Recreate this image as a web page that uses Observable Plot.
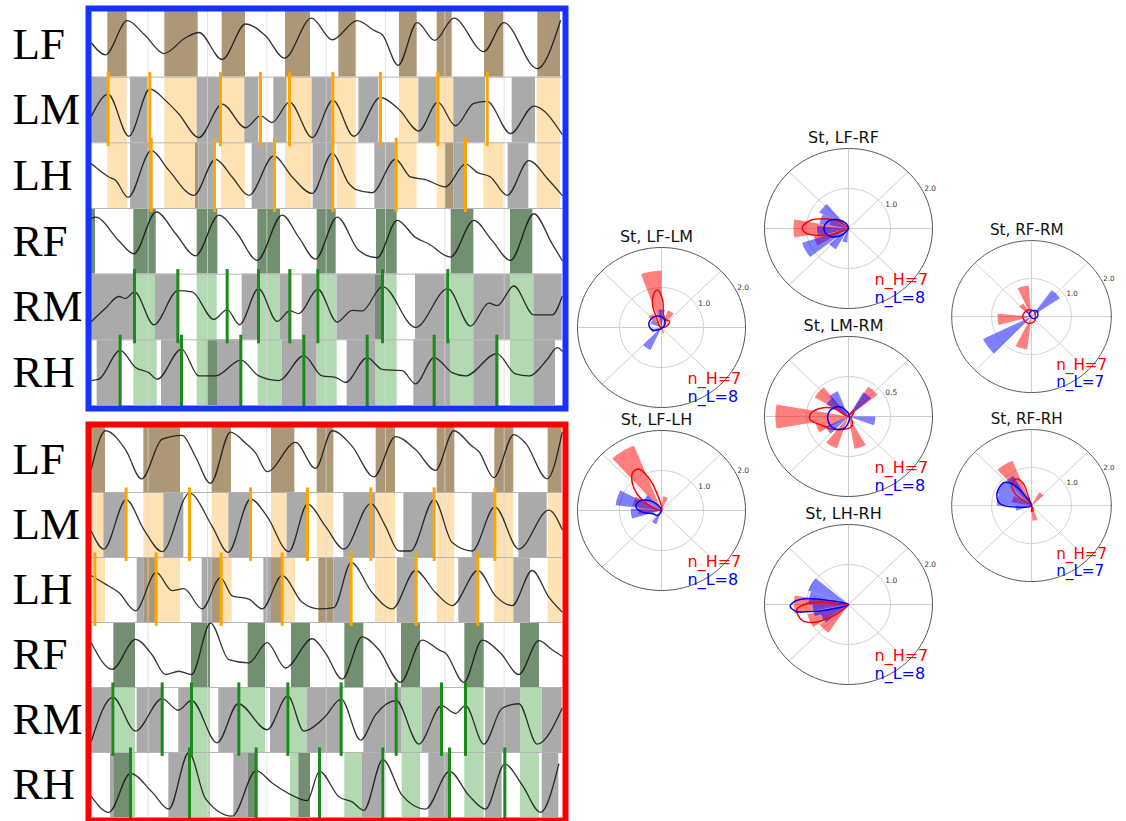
<!DOCTYPE html>
<html><head><meta charset="utf-8">
<script src="https://cdn.jsdelivr.net/npm/d3@7"></script>
<script src="https://cdn.jsdelivr.net/npm/@observablehq/plot@0.6"></script>
<style>
body{margin:0;background:#fff;}
#root{position:relative;width:1126px;height:821px;overflow:hidden;background:#fff;}
#root > div{position:absolute;}
</style></head><body><div id="root"></div><script>
// ---------------- DATA: gait panels (time in samples, signal 0-100 within row) ----------------
const rowNames = ["LF","LM","LH","RF","RM","RH"];
const gridT = [188,366,544,722,900,1078,1256];

// Low condition (blue frame)
const L_LF_int = [[67,125,"s"],[238,338,"s"],[410,480,"s"],[600,675,"s"],[760,812,"s"],[942,995,"s"],[1055,1100,"s"],[1197,1255,"s"],[1357,1425,"s"]];
const L_LM_int = [[18,67,"g"],[67,125,"s"],[135,188,"g"],[238,335,"s"],[335,405,"g"],[405,478,"s"],[478,520,"g"],[565,605,"g"],[605,680,"s"],[680,740,"g"],[740,812,"s"],[820,880,"g"],[942,1000,"s"],[1000,1055,"g"],[1055,1105,"s"],[1105,1200,"g"],[1280,1350,"g"],[1355,1425,"s"]];
const L_LH_int = [[67,127,"s"],[135,195,"g"],[238,330,"s"],[330,340,"d"],[340,390,"g"],[408,480,"s"],[500,565,"g"],[600,680,"s"],[683,742,"g"],[755,812,"s"],[868,930,"g"],[935,995,"s"],[1055,1080,"s"],[1080,1105,"d"],[1105,1140,"g"],[1195,1255,"s"],[1268,1330,"g"],[1355,1425,"s"]];
const L_RF_int = [[18,30,"s"],[145,212,"s"],[335,397,"s"],[517,585,"s"],[695,752,"s"],[873,935,"s"],[1097,1165,"s"],[1275,1342,"s"]];
const L_RM_int = [[18,145,"g"],[145,210,"s"],[210,278,"g"],[335,395,"s"],[470,520,"g"],[520,585,"s"],[585,612,"g"],[650,695,"g"],[695,755,"s"],[755,870,"g"],[870,890,"d"],[890,935,"s"],[990,1090,"g"],[1095,1165,"s"],[1165,1275,"g"],[1275,1345,"s"],[1345,1430,"g"]];
const L_RH_int = [[35,105,"g"],[145,215,"s"],[228,290,"g"],[335,365,"s"],[365,398,"d"],[398,470,"g"],[518,590,"s"],[590,695,"g"],[695,755,"s"],[785,870,"g"],[870,935,"s"],[985,1095,"g"],[1095,1165,"s"],[1165,1240,"g"],[1275,1345,"s"],[1345,1410,"g"]];

const L_LF_sig = [[18,52],[60,34],[125,86],[180,63],[235,36],[300,60],[340,68],[410,27],[480,81],[540,63],[597,29],[678,90],[740,57],[815,86],[870,70],[890,65],[938,18],[995,83],[1048,56],[1105,90],[1195,39],[1255,83],[1355,13],[1425,86]];
const L_LM_sig = [[18,41],[68,74],[130,10],[193,82],[245,62],[280,44],[340,8],[410,59],[480,23],[525,41],[560,31],[612,62],[680,8],[742,65],[805,10],[885,69],[940,51],[1000,18],[1057,62],[1110,26],[1165,60],[1205,63],[1275,14],[1345,56],[1430,13]];
const L_LH_sig = [[18,68],[70,48],[90,43],[128,17],[197,88],[250,58],[325,20],[390,75],[440,48],[490,20],[565,80],[620,48],[680,23],[740,84],[790,38],[810,29],[860,24],[930,75],[975,48],[1020,44],[1080,33],[1140,68],[1175,55],[1215,48],[1265,20],[1330,73],[1390,43],[1430,20]];
const L_RF_sig = [[18,85],[30,87],[100,51],[145,31],[212,95],[270,62],[330,28],[400,90],[455,62],[515,21],[590,90],[640,56],[690,23],[755,87],[820,36],[875,25],[935,82],[990,56],[1030,46],[1095,26],[1165,82],[1220,51],[1275,21],[1345,92],[1400,46],[1430,21]];
const L_RM_sig = [[18,28],[60,48],[100,66],[120,63],[147,73],[205,23],[277,75],[320,73],[385,31],[425,46],[462,23],[519,78],[575,28],[613,44],[640,40],[697,77],[755,27],[800,45],[830,44],[891,81],[990,19],[1087,78],[1155,21],[1210,56],[1235,52],[1285,82],[1345,38],[1400,38],[1430,66]];
const L_RH_sig = [[18,38],[40,40],[104,84],[150,58],[190,50],[215,40],[288,86],[340,45],[390,45],[466,69],[520,45],[580,38],[655,76],[710,45],[750,43],[780,35],[845,73],[890,55],[950,53],[990,33],[1046,73],[1100,50],[1140,45],[1234,79],[1290,48],[1330,45],[1385,70],[1415,88],[1430,83]];

const L_LM_ticks = [68,193,405,525,612,742,885,1057,1205];
const L_LH_ticks = [197,387,567,742,932,1140];
const L_RM_ticks = [147,277,425,519,613,697,891,1087];
const L_RH_ticks = [104,288,466,655,845,1046,1234];

// High condition (red frame)
const H_LF_int = [[18,60,"s"],[175,285,"s"],[380,438,"s"],[558,628,"s"],[695,745,"s"],[872,930,"s"],[1055,1108,"s"],[1228,1285,"s"],[1388,1430,"s"]];
const H_LM_int = [[18,55,"s"],[55,120,"g"],[175,235,"s"],[235,295,"g"],[380,430,"s"],[430,495,"g"],[558,605,"s"],[605,665,"g"],[695,745,"s"],[775,870,"g"],[870,930,"s"],[955,1045,"g"],[1055,1108,"s"],[1160,1228,"g"],[1228,1285,"s"],[1300,1385,"g"],[1388,1430,"s"]];
const H_LH_int = [[20,60,"s"],[155,175,"g"],[175,210,"d"],[210,285,"s"],[350,380,"g"],[380,410,"d"],[410,440,"s"],[535,558,"g"],[558,590,"d"],[590,630,"s"],[700,745,"d"],[745,800,"g"],[870,930,"s"],[935,990,"g"],[1055,1108,"s"],[1120,1180,"g"],[1228,1285,"s"],[1285,1335,"g"],[1388,1430,"s"]];
const H_RF_int = [[85,150,"s"],[318,375,"s"],[488,540,"s"],[618,675,"s"],[778,835,"s"],[948,1005,"s"],[1138,1196,"s"],[1305,1362,"s"]];
const H_RM_int = [[18,80,"g"],[80,150,"s"],[155,230,"g"],[280,318,"g"],[318,375,"s"],[400,460,"g"],[460,540,"s"],[555,605,"g"],[605,665,"s"],[665,770,"g"],[835,950,"g"],[950,1010,"s"],[1010,1070,"g"],[1140,1196,"s"],[1200,1305,"g"],[1305,1370,"s"],[1370,1430,"g"]];
const H_RH_int = [[75,85,"g"],[85,135,"d"],[135,150,"s"],[250,310,"g"],[310,375,"s"],[445,488,"g"],[488,515,"d"],[615,640,"s"],[640,675,"d"],[778,830,"s"],[830,890,"g"],[950,1005,"s"],[1030,1095,"g"],[1138,1196,"s"],[1200,1250,"g"],[1305,1362,"s"],[1370,1420,"g"]];

const H_LF_sig = [[18,37],[60,95],[120,66],[168,21],[230,82],[290,88],[330,55],[375,14],[435,93],[480,76],[510,61],[545,32],[630,77],[690,37],[740,95],[800,71],[865,24],[930,86],[990,66],[1050,34],[1105,95],[1160,71],[1180,63],[1225,23],[1285,89],[1320,76],[1385,21],[1430,92]];
const H_LM_sig = [[18,40],[55,13],[122,89],[175,43],[230,9],[312,99],[380,48],[428,8],[495,90],[545,63],[610,9],[666,82],[720,48],[775,13],[856,83],[900,48],[940,10],[975,10],[1046,89],[1100,23],[1160,10],[1228,78],[1300,13],[1390,73],[1430,43]];
const H_LH_sig = [[18,72],[60,59],[100,46],[150,18],[212,77],[260,49],[295,52],[350,21],[405,69],[440,41],[490,36],[530,21],[590,72],[650,31],[700,21],[745,23],[797,92],[860,46],[920,21],[990,80],[1050,46],[1100,26],[1177,80],[1230,41],[1280,26],[1340,80],[1390,39],[1430,16]];
const H_RF_sig = [[18,68],[80,28],[150,74],[200,50],[240,20],[280,25],[318,20],[375,99],[430,43],[490,38],[545,69],[600,30],[680,75],[720,53],[770,13],[830,78],[880,58],[945,8],[1010,73],[1060,58],[1080,53],[1135,8],[1190,73],[1245,53],[1300,20],[1360,72],[1400,58],[1430,48]];
const H_RM_sig = [[18,18],[82,85],[150,33],[230,83],[278,65],[318,80],[395,15],[458,75],[545,35],[607,87],[655,33],[715,53],[767,82],[825,19],[870,58],[932,80],[1000,13],[1068,72],[1110,60],[1140,72],[1195,13],[1250,68],[1300,75],[1355,13],[1430,68]];
const H_RH_sig = [[18,32],[70,8],[135,68],[200,39],[250,13],[310,100],[360,29],[440,2],[512,72],[560,53],[620,34],[665,26],[702,71],[760,32],[800,24],[835,11],[892,89],[950,34],[1020,13],[1092,71],[1150,34],[1200,13],[1258,82],[1310,50],[1365,8],[1420,82]];

const H_LM_ticks = [122,312,495,666,856,1046,1228];
const H_LH_ticks = [28,212,407,590,797,992,1177];
const H_RM_ticks = [82,230,318,460,607,767,932,1068,1140];
const H_RH_ticks = [135,312,512,702,892,1092,1258];

// ---------------- DATA: polar plots (angle in degrees, radius) ----------------
const polarNames = ["St, LF-LM","St, LF-RF","St, RF-RM","St, LF-LH","St, LM-RM","St, RF-RH","St, LH-RH"];
const polarNH = [7,7,7,7,7,7,7];
const polarNL = [8,8,7,8,8,7,8];
const polarRmax = [2,2,2,2,1,2,2];
const polarRLabels = [["1.0","2.0"],["1.0","2.0"],["1.0","2.0"],["1.0","2.0"],["0.5",""],["1.0","2.0"],["1.0","2.0"]];
const redBars = [
  [[100,1.42],[60,0.45],[130,0.4],[290,0.15]],
  [[180,1.31],[200,0.85],[160,0.45]],
  [[105,0.82],[185,0.85],[253,0.87],[130,0.4]],
  [[122,1.75],[75,0.35],[160,0.7],[180,0.55]],
  [[180,0.87],[139,0.47],[48,0.44],[241,0.42],[290,0.41],[200,0.4]],
  [[122,1.27],[51,0.4],[283,0.4],[160,0.5]],
  [[180,1.3],[204,1.0],[226,0.85]]
];
const blueBars = [
  [[235,0.62],[150,0.28],[200,0.25],[90,0.45]],
  [[140,0.8],[160,0.7],[185,0.75],[208,1.16],[230,0.6],[255,0.35]],
  [[44,0.86],[216,1.35],[130,0.2]],
  [[163,1.1],[186,0.73],[241,0.36],[140,0.5]],
  [[122,0.34],[350,0.32],[215,0.3],[50,0.35],[140,0.3]],
  [[130,0.9],[150,0.95],[170,0.87],[190,0.4]],
  [[150,1.02],[170,0.95],[190,0.85],[210,0.7]]
];
const redCurves = [
  [[0,0],[20,0.15],[40,0.25],[60,0.22],[80,0.3],[88,0.7],[96,0.94],[104,0.82],[112,0.54],[117,0.22],[150,0.05]],
  [[0,0],[146,0.36],[158,0.65],[167,0.92],[176,1.08],[181,1.1],[187,1.01],[194,0.72],[200,0.43],[202,0.16]],
  [[0,0.1],[60,0.15],[120,0.2],[180,0.22],[240,0.2],[300,0.15]],
  [[0,0],[105,0.5],[110,0.84],[117,1.16],[126,1.17],[136,0.96],[145,0.7],[154,0.37]],
  [[0,0],[150,0.2],[160,0.32],[175,0.45],[185,0.46],[200,0.33],[220,0.25],[250,0.17],[280,0.14],[300,0.1],[340,0.03],[20,0.05],[45,0.09],[60,0.05]],
  [[0,0],[108,0.32],[110,0.64],[119,0.8],[132,0.74],[143,0.5],[146,0.18],[0,0],[270,0.16],[290,0.12]],
  [[0,0],[176,0.3],[175,0.63],[179,1.0],[186,1.24],[200,1.17],[209,0.92],[215,0.61],[221,0.32]]
];
const blueCurves = [
  [[142,0.33],[172,0.3],[202,0.2],[232,0.06],[262,0.03],[292,0.02],[322,0.01],[352,0.03],[22,0.06],[52,0.14],[82,0.25],[112,0.31]],
  [[0,0],[113,0.13],[139,0.33],[156,0.49],[175,0.58],[192,0.56],[207,0.45],[222,0.27],[238,0.09]],
  [[45,0.2],[90,0.15],[135,0.08],[180,0.03],[225,0.02],[270,0.03],[315,0.08],[0,0.15]],
  [[0,0],[124,0.18],[140,0.39],[158,0.59],[172,0.61],[186,0.45],[202,0.22],[230,0.16]],
  [[190,0.25],[220,0.23],[250,0.16],[280,0.05],[310,0.02],[10,0.01],[70,0.02],[100,0.05],[130,0.16],[160,0.23]],
  [[0,0],[121,0.29],[129,0.71],[139,0.92],[160,0.92],[177,0.78],[186,0.38]],
  [[0,0],[168,0.49],[172,1.04],[177,1.3],[182,1.39],[188,1.26],[190,1.05],[195,0.5]]
];

// ---------------- RENDER ----------------
const root = document.getElementById("root");
const C = {brown:"#ac9876", orange:"#ffe2b4", gray:"#aaaaaa", dkgreen:"#728f72", ltgreen:"#b3d9b3", tickO:"#ffa500", tickG:"#1a8a1a"};
const stanceColor = {LF:C.brown, LM:C.orange, LH:C.orange, RF:C.dkgreen, RM:C.ltgreen, RH:C.ltgreen};

function place(node, left, top) {
  const d = document.createElement("div");
  d.style.left = left + "px"; d.style.top = top + "px";
  d.appendChild(node); root.appendChild(d);
}

function drawPanel(rows, frameColor, top, height, mTop, mBottom) {
  const rects = [], sig = [], tks = [];
  rows.forEach((r, i) => {
    r.int.forEach(([a, b, k]) => rects.push({a, b, k, i, name: rowNames[i]}));
    r.sig.forEach(([t, v]) => sig.push({t, v, i}));
    (r.ticks || []).forEach(t => tks.push({t, i, name: rowNames[i]}));
  });
  const fillOf = d => d.k === "g" ? C.gray : d.k === "d" ? (d.name[0] === "L" ? C.brown : C.dkgreen) : stanceColor[d.name];
  const p = Plot.plot({
    width: 570, height, marginLeft: 91, marginRight: 8, marginTop: mTop, marginBottom: mBottom,
    x: {domain: [18, 1431], axis: null},
    y: {domain: [0, 6], reverse: true, axis: null},
    style: {background: "transparent", overflow: "visible", fontFamily: "Liberation Serif"},
    marks: [
      Plot.rect(rects, {x1: "a", x2: "b", y1: "i", y2: d => d.i + 1, fill: fillOf}),
      Plot.ruleX(gridT, {stroke: "#d8d8d8", strokeOpacity: 0.7, strokeWidth: 1}),
      Plot.ruleY([1, 2, 3, 4, 5], {stroke: "#b5b5b5", strokeWidth: 1}),
      Plot.line(sig, {x: "t", y: d => d.i + 1 - d.v / 100, z: "i", curve: "monotone-x", stroke: "#111", strokeWidth: 1.3, strokeOpacity: 0.85}),
      Plot.ruleX(tks, {x: "t", y1: d => d.i - 0.07, y2: d => d.i + 1.06, stroke: d => d.name[0] === "L" ? C.tickO : C.tickG, strokeWidth: 3}),
      Plot.frame({stroke: frameColor, strokeWidth: 6, inset: -3}),
      Plot.axisY([0.5, 1.5, 2.5, 3.5, 4.5, 5.5], {tickFormat: d => rowNames[Math.floor(d)], label: null, tickSize: 0, tickPadding: 79, textAnchor: "start", fontSize: 45, fontFamily: "Liberation Serif", fill: "#000"})
    ]
  });
  place(p, 0, top);
}

drawPanel([
  {int: L_LF_int, sig: L_LF_sig},
  {int: L_LM_int, sig: L_LM_sig, ticks: L_LM_ticks},
  {int: L_LH_int, sig: L_LH_sig, ticks: L_LH_ticks},
  {int: L_RF_int, sig: L_RF_sig},
  {int: L_RM_int, sig: L_RM_sig, ticks: L_RM_ticks},
  {int: L_RH_int, sig: L_RH_sig, ticks: L_RH_ticks}
], "#1433ff", 0, 412, 11, 7);

drawPanel([
  {int: H_LF_int, sig: H_LF_sig},
  {int: H_LM_int, sig: H_LM_sig, ticks: H_LM_ticks},
  {int: H_LH_int, sig: H_LH_sig, ticks: H_LH_ticks},
  {int: H_RF_int, sig: H_RF_sig},
  {int: H_RM_int, sig: H_RM_sig, ticks: H_RM_ticks},
  {int: H_RH_int, sig: H_RH_sig, ticks: H_RH_ticks}
], "#ff0000", 416, 405, 11, 4);

// polar plots
const polarPos = [[661,327],[848,228],[1036,321],[661,510],[848,416],[1036,510],[848,604]];
const rad = a => a * Math.PI / 180;
const toXY = ([a, r]) => ({x: r * Math.cos(rad(a)), y: r * Math.sin(rad(a))});

function drawPolar(k) {
  const [cx, cy] = polarPos[k];
  const rmax = polarRmax[k];
  const W = 200, H = 192, ox = 100, oy = 98, RX = 84, RY = 80;
  const ring = r => d3.range(0, 361, 3).map(a => toXY([a, r]));
  const spokes = d3.range(0, 360, 45).map(a => ({...toXY([a, rmax]), a}));
  const polys = bars => bars.flatMap(([a, r], j) => [{x: 0, y: 0, id: j}, ...d3.range(a - 10, a + 10.01, 2.5).map(s => ({...toXY([s, r]), id: j}))]);
  const labels = [[polarRLabels[k][0], rmax / 2], [polarRLabels[k][1], rmax]].map(([t, r]) => ({t, ...toXY([22.5, r])}));
  const p = Plot.plot({
    width: W, height: H, margin: 0,
    x: {domain: [-rmax, rmax], range: [ox - RX, ox + RX], axis: null},
    y: {domain: [-rmax, rmax], range: [oy + RY, oy - RY], axis: null},
    style: {background: "transparent", overflow: "visible", fontFamily: "DejaVu Sans"},
    marks: [
      Plot.line(ring(rmax / 2), {x: "x", y: "y", stroke: "#cfcfcf", strokeWidth: 1}),
      Plot.link(spokes, {x1: () => 0, y1: () => 0, x2: "x", y2: "y", stroke: "#cfcfcf", strokeWidth: 1}),
      Plot.line(polys(redBars[k]), {x: "x", y: "y", z: "id", fill: "#ff0000", fillOpacity: 0.5, stroke: "none", curve: "linear-closed"}),
      Plot.line(polys(blueBars[k]), {x: "x", y: "y", z: "id", fill: "#0000ff", fillOpacity: 0.5, stroke: "none", curve: "linear-closed"}),
      Plot.line(redCurves[k].map(toXY), {x: "x", y: "y", curve: "catmull-rom-closed", stroke: "#ff0000", strokeWidth: 1.5}),
      Plot.line(blueCurves[k].map(toXY), {x: "x", y: "y", curve: "catmull-rom-closed", stroke: "#0000ff", strokeWidth: 1.5}),
      Plot.line(ring(rmax), {x: "x", y: "y", stroke: "#555", strokeWidth: 1}),
      Plot.text(labels, {x: "x", y: "y", text: "t", dx: 4, dy: -9, fontSize: 7.5, fill: "#333"}),
      Plot.text([polarNames[k]], {frameAnchor: "top", lineAnchor: "top", dx: -5, dy: 1, fontSize: 16, fill: "#111"}),
      Plot.text([`n_H=${polarNH[k]}`], {frameAnchor: "top-left", textAnchor: "start", lineAnchor: "top", dx: 126, dy: 143, fontSize: 16, fill: "#ff0000"}),
      Plot.text([`n_L=${polarNL[k]}`], {frameAnchor: "top-left", textAnchor: "start", lineAnchor: "top", dx: 126, dy: 161, fontSize: 16, fill: "#0000ff"})
    ]
  });
  place(p, cx - ox, cy - oy);
}
polarNames.forEach((_, k) => drawPolar(k));
</script></body></html>
